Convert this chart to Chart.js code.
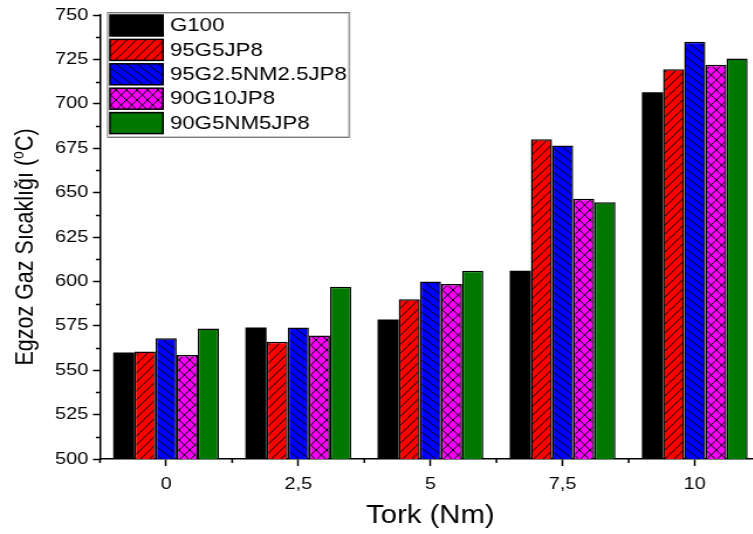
<!DOCTYPE html>
<html>
<head>
<meta charset="utf-8">
<script src="https://cdn.jsdelivr.net/npm/chart.js@4/dist/chart.umd.min.js"></script>
<style>
  html, body { margin: 0; padding: 0; background: #fff; overflow: hidden; width: 753px; height: 534px; }
  canvas { display: block; }
</style>
</head>
<body>
<!-- the original figure is stretched horizontally, so the canvas is drawn narrow and widened by CSS -->
<canvas id="chart" width="651" height="534" style="width:762px;height:534px"></canvas>
<script>
// Egzoz gaz sıcaklığı - tork grafiği
const FONT = "'Liberation Sans', Arial, sans-serif";
const SX = 762 / 651;
const TORK = ["0", "2,5", "5", "7,5", "10"];
const Y_MIN = 500, Y_MAX = 750, Y_STEP = 25;

const SERIES_NAMES = ["G100", "95G5JP8", "95G2.5NM2.5JP8", "90G10JP8", "90G5NM5JP8"];
const G100 = [560, 574, 578.5, 606, 706.5];
const G95_JP5 = [560.5, 566, 590, 680, 719.5];
const G95_NM_JP = [568, 574, 600, 676.5, 735];
const G90_JP10 = [558.5, 569.5, 598.5, 646.5, 722];
const G90_NM_JP = [573.5, 597, 606, 644.5, 725.5];

// desen üretimi (Origin tarzı taramalar)
function hatch(color, w, h, draw) {
  const c = document.createElement("canvas");
  c.width = w; c.height = h;
  const g = c.getContext("2d");
  g.fillStyle = color;
  g.fillRect(0, 0, w, h);
  g.strokeStyle = "#000";
  g.lineWidth = 1;
  g.beginPath();
  draw(g, w, h);
  g.stroke();
  return g.createPattern(c, "repeat");
}
const FILLS = [
  "#000000",
  hatch("#ff0000", 8, 9, (g, w, h) => { g.moveTo(-1, h + 1.1); g.lineTo(w + 1, -1.1); }),
  hatch("#0000ff", 9, 8, (g, w, h) => { g.moveTo(-1.1, -1); g.lineTo(w + 1.1, h + 1); }),
  hatch("#ff00ff", 9, 10, (g, w, h) => {
    g.moveTo(-0.9, -1); g.lineTo(w + 0.9, h + 1);
    g.moveTo(-0.9, h + 1); g.lineTo(w + 0.9, -1);
  }),
  "#007800",
];
const VALUES = [G100, G95_JP5, G95_NM_JP, G90_JP10, G90_NM_JP];

// ara çentikler, eksen başlığı ve lejant
const extras = {
  id: "extras",
  afterDraw(chart) {
    const ctx = chart.ctx;
    const ya = chart.scales.y, xa = chart.scales.x;
    const area = chart.chartArea;
    ctx.save();
    ctx.strokeStyle = "#000";
    ctx.lineWidth = 1.5;
    ctx.beginPath();
    for (let v = Y_MIN + Y_STEP / 2; v < Y_MAX; v += Y_STEP) {
      const y = Math.round(ya.getPixelForValue(v)) + 0.5;
      ctx.moveTo(area.left - 3.5, y); ctx.lineTo(area.left, y);
    }
    const half = (xa.getPixelForValue(1) - xa.getPixelForValue(0)) / 2;
    for (let i = 0; i <= TORK.length; i++) {
      const x = xa.getPixelForValue(i) - half;
      ctx.moveTo(x, area.bottom); ctx.lineTo(x, area.bottom + 4);
    }
    ctx.stroke();

    // y başlığı: Egzoz Gaz Sıcaklığı (oC) - üst simge o
    ctx.fillStyle = "#000";
    ctx.translate(26 / SX, 247);
    ctx.rotate(-Math.PI / 2);
    const big = "21.5px " + FONT, small = "14px " + FONT;
    const p1 = "Egzoz Gaz Sıcaklığı (", p2 = "o", p3 = "C)";
    ctx.font = big; const w1 = ctx.measureText(p1).width, w3 = ctx.measureText(p3).width;
    ctx.font = small; const w2 = ctx.measureText(p2).width;
    const x0 = -(w1 + w2 + w3) / 2;
    ctx.textBaseline = "middle";
    ctx.textAlign = "left";
    ctx.font = big; ctx.fillText(p1, x0, 0);
    ctx.font = small; ctx.fillText(p2, x0 + w1, -6);
    ctx.font = big; ctx.fillText(p3, x0 + w1 + w2, 0);
    ctx.restore();

    // lejant
    ctx.save();
    const lx = 107 / SX, ly = 12, lw = 242 / SX, lh = 125;
    ctx.strokeStyle = "#7a7a7a";
    ctx.lineWidth = 1;
    ctx.strokeRect(lx + 0.5, ly + 0.5, lw, lh);
    ctx.strokeStyle = "#c8c8c8";
    ctx.strokeRect(lx + 1.5, ly + 1.5, lw - 2, lh - 2);
    chart.data.datasets.forEach((ds, i) => {
      const top = 15 + i * 24.4;
      ctx.fillStyle = ds.backgroundColor;
      ctx.fillRect(110 / SX, top, 53 / SX, 21);
      ctx.strokeStyle = "#000";
      ctx.lineWidth = 1.5;
      ctx.strokeRect(110 / SX, top, 53 / SX, 21);
      ctx.fillStyle = "#000";
      ctx.font = "19px " + FONT;
      ctx.textBaseline = "middle";
      ctx.fillText(ds.label, 170 / SX, top + 11);
    });
    ctx.restore();
  }
};

new Chart(document.getElementById("chart").getContext("2d"), {
  type: "bar",
  data: {
    labels: TORK,
    datasets: SERIES_NAMES.map((name, i) => ({
      label: name,
      data: VALUES[i],
      backgroundColor: FILLS[i],
      borderColor: "#000",
      borderWidth: i === 0 ? 0 : 1.5,
      categoryPercentage: 0.8,
      barPercentage: 1.0,
    }))
  },
  options: {
    responsive: false,
    animation: false,
    devicePixelRatio: 1,
    layout: { padding: { left: 0, right: 1, top: 15, bottom: 0 } },
    plugins: {
      legend: { display: false },
      tooltip: { enabled: false },
    },
    scales: {
      x: {
        afterFit: (s) => { s.height = 75; },
        grid: { display: true, drawOnChartArea: false, offset: false, tickLength: 7, tickColor: "#000", tickWidth: 1.5 },
        border: { display: true, color: "#000", width: 1.5 },
        ticks: { color: "#000", font: { family: FONT, size: 17 }, padding: 8, maxRotation: 0 },
        title: { display: true, text: "Tork (Nm)", color: "#000", font: { family: FONT, size: 25 }, padding: { top: 0, bottom: 3 } },
      },
      y: {
        min: Y_MIN,
        max: Y_MAX,
        afterFit: (s) => { s.width = 100 / SX; },
        grid: { display: true, drawOnChartArea: false, tickLength: 6, tickColor: "#000", tickWidth: 1.5 },
        border: { display: true, color: "#000", width: 1.5 },
        ticks: { stepSize: Y_STEP, color: "#000", font: { family: FONT, size: 17 }, padding: 4 },
      }
    }
  },
  plugins: [extras]
});
</script>
</body>
</html>
